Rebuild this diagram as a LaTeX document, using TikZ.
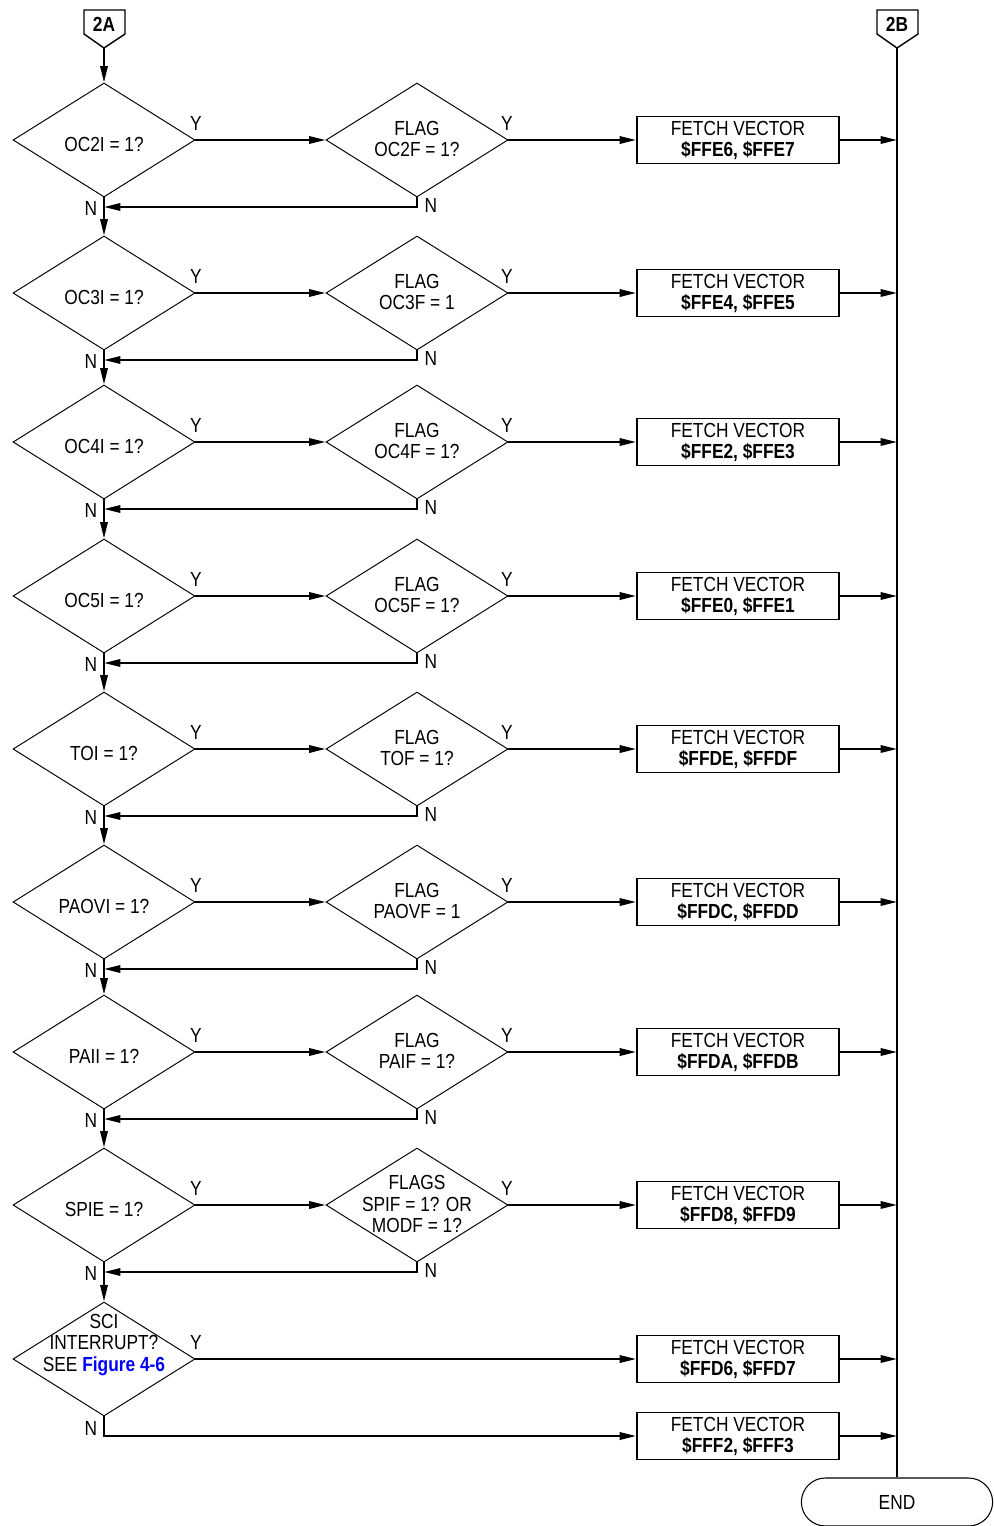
\documentclass[tikz,border=0pt]{standalone}
\usepackage{fontspec}
\setmainfont{Liberation Sans}[FakeStretch=0.85]
\usepackage{tikz}
\usetikzlibrary{arrows.meta,shapes.geometric,shapes.misc}
\definecolor{linkblue}{HTML}{0000FF}

\begin{document}
\begin{tikzpicture}[x=0.02cm,y=-0.02cm,
    font=\fontsize{11.6}{12}\selectfont,
    >={Triangle[length=3.3mm,width=1.5mm]},
    dia/.style={draw,diamond,line width=0.55pt,minimum width=3.64cm,minimum height=2.28cm,inner sep=0},
    txt/.style={align=center,inner sep=0},
    lbl/.style={inner sep=0},
    vbox/.style={draw,line width=1.1pt,minimum width=4.04cm,minimum height=0.94cm,align=center,inner sep=0},
    conn/.style={inner sep=0,font=\fontsize{11.6}{12}\selectfont\bfseries},
    flow/.style={line width=1.1pt}]
  \useasboundingbox (0,0) rectangle (994,1526);
  % off-page connectors and end
  \node[conn] (c2a) at (104,24) {2A};
  \draw[line width=0.8pt] (84,10) -- (125,10) -- (125,34) -- (104,48) -- (84,34) -- cycle;
  \coordinate (c2a-tip) at (104,48);
  \node[conn] (c2b) at (897,24) {2B};
  \draw[line width=0.8pt] (877,10) -- (918,10) -- (918,34) -- (897,48) -- (877,34) -- cycle;
  \coordinate (c2b-tip) at (897,48);
  \node[draw,rounded rectangle,line width=0.6pt,minimum width=4.06cm,minimum height=0.96cm] (end) at (897,1502) {END};
  \draw[flow] (c2b-tip) -- (end.north);
  % interrupt checks
  \foreach \i/\yy/\ca/\cb/\va in {
      1/140/{OC2I = 1?}/{FLAG\\OC2F = 1?}/{\$FFE6, \$FFE7},
      2/293/{OC3I = 1?}/{FLAG\\OC3F = 1}/{\$FFE4, \$FFE5},
      3/442/{OC4I = 1?}/{FLAG\\OC4F = 1?}/{\$FFE2, \$FFE3},
      4/596/{OC5I = 1?}/{FLAG\\OC5F = 1?}/{\$FFE0, \$FFE1},
      5/749/{TOI = 1?}/{FLAG\\TOF = 1?}/{\$FFDE, \$FFDF},
      6/902/{PAOVI = 1?}/{FLAG\\PAOVF = 1}/{\$FFDC, \$FFDD},
      7/1052/{PAII = 1?}/{FLAG\\PAIF = 1?}/{\$FFDA, \$FFDB},
      8/1205/{SPIE = 1?}/{FLAGS\\SPIF = 1? OR\\MODF = 1?}/{\$FFD8, \$FFD9}} {
    \node[dia] (a\i) at (104,\yy) {};
    \node[txt] (at\i) at (104,\yy+4) {\ca};
    \node[dia] (b\i) at (417,\yy) {};
    \node[txt] (bt\i) at (417,\yy-1) {\cb};
    \node[vbox] (v\i) at (738,\yy) {FETCH VECTOR\\\textbf{\va}};
    \coordinate (r\i) at (104,\yy+67);
    \draw[flow,->] (a\i.east) -- (b\i.west);
    \draw[flow,->] (b\i.east) -- (v\i.west);
    \draw[flow,->] (v\i.east) -- (v\i.east -| c2b-tip);
    \draw[flow,->] (b\i.south) |- (r\i);
    \node[lbl] (ya\i) at (196,\yy-17) {Y};
    \node[lbl] (yb\i) at (507,\yy-17) {Y};
    \node[lbl] (na\i) at (91,\yy+68) {N};
    \node[lbl] (nb\i) at (431,\yy+65) {N};
  }
  % SCI
  \node[dia] (a9) at (104,1359) {};
  \node[txt] (at9) at (104,1345) {SCI\\INTERRUPT?\\SEE \textcolor{linkblue}{\textbf{Figure 4-6}}};
  \node[vbox] (v9) at (738,1359) {FETCH VECTOR\\\textbf{\$FFD6, \$FFD7}};
  \node[vbox] (v10) at (738,1436) {FETCH VECTOR\\\textbf{\$FFF2, \$FFF3}};
  \draw[flow,->] (a9.east) -- (v9.west);
  \draw[flow,->] (a9.south) |- (v10.west);
  \draw[flow,->] (v9.east) -- (v9.east -| c2b-tip);
  \draw[flow,->] (v10.east) -- (v10.east -| c2b-tip);
  \node[lbl] (ya9) at (196,1342) {Y};
  \node[lbl] (na9) at (91,1428) {N};
  % main column
  \draw[flow,->] (c2a-tip) -- (a1.north);
  \foreach \i in {1,...,8} {
    \pgfmathtruncatemacro\j{\i+1}
    \draw[flow,->] (a\i.south) -- (a\j.north);
  }
\end{tikzpicture}
\end{document}
